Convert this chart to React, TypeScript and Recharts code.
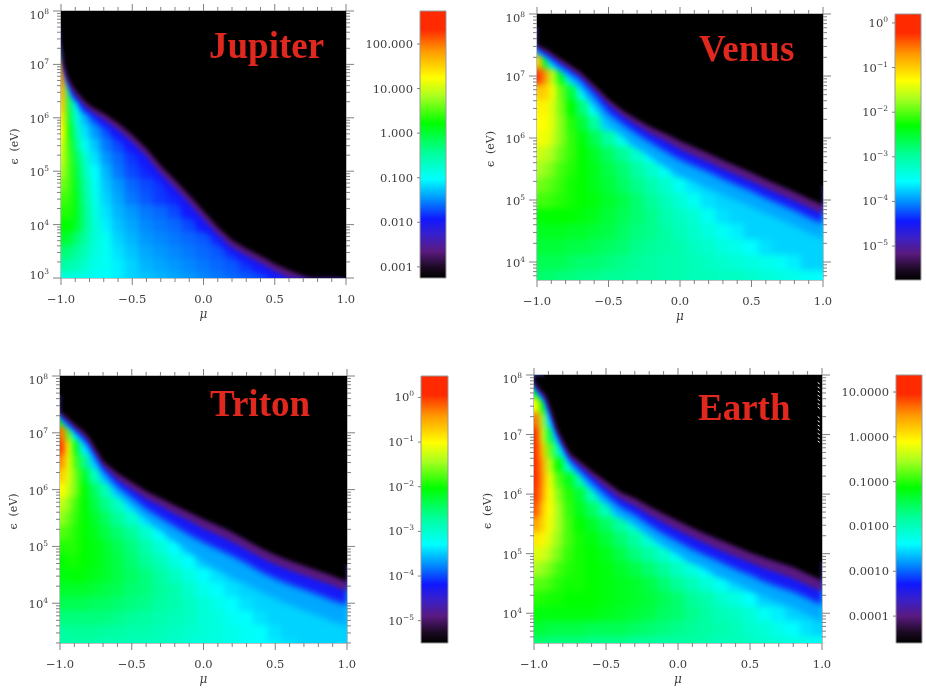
import { Area, Bar, BarChart, ComposedChart, Scatter, XAxis, YAxis } from "recharts";

// mu column centres, shared by all four maps (denser near mu = -1)
const muCols = [-0.98, -0.94, -0.89, -0.83, -0.76, -0.68, -0.6, -0.5, -0.4, -0.3, -0.2, -0.1, 0, 0.1, 0.2, 0.3, 0.4, 0.5, 0.6, 0.7, 0.8, 0.9, 0.98];
const muTicks = [-1, -0.9, -0.8, -0.7, -0.6, -0.5, -0.4, -0.3, -0.2, -0.1, 0, 0.1, 0.2, 0.3, 0.4, 0.5, 0.6, 0.7, 0.8, 0.9, 1];
// mu samples for the contour lines along the upper edge of each map
const edgeMu = [-1, -0.98, -0.95, -0.92, -0.88, -0.84, -0.8, -0.75, -0.7, -0.6, -0.5, -0.4, -0.3, -0.2, -0.1, 0, 0.1, 0.2, 0.3, 0.4, 0.5, 0.6, 0.7, 0.8, 0.9, 1];

// levels are the position on the colour bar in percent, 0 = black, 100 = red. Short rows are black to the right.
const jupiterLogE = [3, 3.25, 3.5, 3.75, 4, 4.25, 4.5, 4.75, 5, 5.25, 5.5, 5.75, 6, 6.25, 6.5, 6.75, 7, 7.25, 7.5, 7.75, 8];
const jupiterLevels = [
  [40, 40, 40, 39, 38, 37, 36, 34, 33, 32, 31, 30, 29, 28, 27, 26, 25, 23, 19, 11, 2],
  [46, 45, 44, 42, 39, 38, 36, 34, 32, 31, 30, 29, 28, 27, 26, 24, 21, 12, 2],
  [50, 49, 47, 44, 40, 38, 35, 33, 31, 30, 29, 28, 27, 26, 24, 20, 12, 3],
  [55, 54, 50, 46, 41, 38, 34, 32, 30, 29, 28, 27, 26, 24, 20, 10, 1],
  [58, 58, 55, 48, 41, 36, 33, 31, 29, 28, 27, 25, 21, 8],
  [60, 60, 56, 48, 40, 35, 32, 30, 28, 27, 25, 22, 8],
  [62, 61, 56, 47, 39, 34, 31, 28, 26, 24, 23, 14, 2],
  [65, 62, 55, 46, 38, 33, 30, 27, 25, 24, 15, 4],
  [68, 62, 54, 44, 37, 32, 28, 25, 23, 17, 6],
  [70, 62, 52, 42, 35, 30, 27, 24, 20, 8],
  [72, 60, 48, 38, 33, 28, 25, 22, 11, 1],
  [75, 58, 44, 35, 30, 26, 22, 13, 3],
  [77, 55, 40, 32, 27, 22, 9, 1],
  [80, 52, 36, 25, 12, 2],
  [82, 45, 25, 8],
  [85, 35, 6],
  [80, 12],
  [55],
  [15],
  [],
  [],
];
const jupiterEdge = [7.5, 7.0, 6.75, 6.6, 6.45, 6.33, 6.23, 6.15, 6.08, 5.9, 5.68, 5.42, 5.1, 4.83, 4.55, 4.25, 3.95, 3.7, 3.55, 3.41, 3.26, 3.14, 3.04, 2.95, 2.8, 2.7];
const jupiterPurple = [7.42, 6.95, 6.68, 6.51, 6.36, 6.24, 6.14, 6.05, 5.97, 5.77, 5.54, 5.28, 4.95, 4.68, 4.4, 4.1, 3.82, 3.57, 3.42, 3.28, 3.13, 3, 2.92, 2.84, 2.7, 2.6];
const jupiterBlue = [7.35, 6.9, 6.6, 6.42, 6.27, 6.15, 6.05, 5.93, 5.84, 5.62, 5.36, 5.08, 4.75, 4.48, 4.2, 3.93, 3.65, 3.42, 3.27, 3.12, 2.98, 2.85, 2.77, 2.7, 2.6, 2.5];

const venusLogE = [3.75, 4, 4.25, 4.5, 4.75, 5, 5.25, 5.5, 5.75, 6, 6.25, 6.5, 6.75, 7, 7.25, 7.5, 7.75, 8];
const venusLevels = [
  [50, 50, 50, 49, 49, 48, 48, 47, 47, 46, 46, 45, 45, 44, 44, 43, 43, 42, 41, 40, 39, 38, 37],
  [52, 52, 52, 52, 51, 50, 50, 49, 48, 47, 46, 45, 45, 44, 43, 42, 41, 40, 39, 38, 36, 34, 32],
  [54, 54, 54, 54, 53, 53, 52, 51, 50, 48, 47, 46, 45, 43, 42, 40, 39, 37, 35, 33, 31, 29, 27],
  [55, 56, 56, 56, 55, 55, 54, 53, 51, 49, 48, 46, 44, 42, 40, 38, 36, 34, 31, 29, 27, 24, 21],
  [58, 58, 58, 58, 58, 57, 56, 54, 52, 50, 48, 45, 43, 41, 38, 35, 33, 30, 28, 25, 22, 18, 12],
  [62, 62, 61, 60, 59, 58, 57, 55, 53, 50, 47, 44, 41, 38, 35, 32, 29, 27, 24, 20, 15, 3],
  [65, 64, 63, 61, 59, 58, 56, 54, 51, 48, 45, 42, 38, 35, 31, 28, 25, 21, 14, 4],
  [68, 67, 65, 62, 60, 58, 56, 53, 50, 46, 42, 38, 34, 30, 27, 23, 13, 4],
  [71, 70, 68, 64, 61, 58, 55, 51, 47, 42, 37, 32, 25, 14, 3],
  [74, 74, 71, 66, 61, 57, 52, 46, 39, 30, 22, 8],
  [75, 75, 72, 66, 60, 54, 46, 34, 22, 5],
  [76, 76, 72, 65, 58, 49, 38, 22, 4],
  [80, 80, 74, 64, 54, 38, 12],
  [92, 85, 70, 56, 38, 12],
  [80, 56, 36, 14, 2],
  [8],
  [],
  [],
];
const venusEdge = [7.5, 7.48, 7.44, 7.41, 7.34, 7.28, 7.22, 7.14, 7.07, 6.85, 6.62, 6.44, 6.3, 6.17, 6.07, 5.95, 5.85, 5.75, 5.64, 5.54, 5.44, 5.33, 5.23, 5.13, 5.02, 4.92];
const venusPurple = [7.46, 7.44, 7.4, 7.36, 7.29, 7.22, 7.16, 7.08, 7.0, 6.78, 6.54, 6.35, 6.2, 6.06, 5.95, 5.82, 5.71, 5.61, 5.5, 5.4, 5.3, 5.19, 5.09, 4.99, 4.88, 4.78];
const venusBlue = [7.42, 7.39, 7.35, 7.3, 7.23, 7.16, 7.1, 7.02, 6.94, 6.68, 6.4, 6.22, 6.06, 5.92, 5.78, 5.65, 5.55, 5.45, 5.34, 5.24, 5.14, 5.03, 4.93, 4.83, 4.72, 4.62];
const venusAzure = [7.38, 7.35, 7.31, 7.25, 7.17, 7.08, 7.0, 6.9, 6.8, 6.5, 6.22, 6.02, 5.84, 5.68, 5.53, 5.4, 5.29, 5.19, 5.09, 4.99, 4.89, 4.78, 4.68, 4.58, 4.47, 4.37];

const tritonLogE = [3.25, 3.5, 3.75, 4, 4.25, 4.5, 4.75, 5, 5.25, 5.5, 5.75, 6, 6.25, 6.5, 6.75, 7, 7.25, 7.5, 7.75, 8];
const tritonLevels = [
  [45, 45, 45, 45, 45, 44, 44, 44, 43, 43, 42, 41, 40, 40, 39, 38, 37, 36, 35, 34, 33, 32, 31],
  [46, 47, 47, 47, 47, 46, 46, 45, 45, 44, 43, 42, 41, 40, 39, 38, 37, 35, 34, 33, 31, 30, 28],
  [49, 49, 49, 49, 49, 49, 48, 47, 46, 45, 44, 43, 41, 40, 38, 37, 35, 34, 32, 30, 28, 26, 24],
  [52, 52, 52, 52, 51, 51, 50, 49, 48, 46, 45, 43, 41, 39, 37, 35, 33, 31, 29, 27, 24, 22, 19],
  [55, 55, 55, 55, 54, 53, 52, 50, 49, 47, 45, 42, 39, 37, 35, 32, 30, 27, 25, 22, 19, 10, 3],
  [57, 57, 58, 57, 56, 55, 53, 51, 49, 46, 43, 40, 37, 35, 32, 29, 26, 23, 19, 12, 4, 1],
  [58, 59, 59, 58, 57, 55, 53, 50, 47, 44, 40, 37, 33, 30, 27, 23, 19, 10, 2],
  [60, 60, 60, 58, 57, 55, 52, 49, 45, 41, 37, 33, 29, 26, 22, 12, 3],
  [63, 62, 60, 58, 56, 53, 50, 47, 42, 37, 33, 28, 24, 10, 1],
  [67, 64, 61, 58, 55, 51, 47, 42, 36, 31, 26, 12, 1],
  [70, 67, 62, 58, 53, 48, 43, 36, 28, 12, 2],
  [75, 71, 65, 58, 51, 44, 35, 13, 1],
  [80, 73, 65, 55, 44, 24, 4],
  [86, 74, 62, 48, 28, 4],
  [92, 75, 56, 36, 5],
  [88, 64, 40, 8],
  [60, 12],
  [],
  [],
  [],
];
const tritonEdge = [7.37, 7.33, 7.27, 7.2, 7.11, 7.03, 6.92, 6.71, 6.5, 6.29, 6.13, 5.97, 5.85, 5.72, 5.6, 5.48, 5.37, 5.25, 5.11, 4.97, 4.85, 4.75, 4.66, 4.57, 4.48, 4.38];
const tritonPurple = [7.33, 7.29, 7.22, 7.15, 7.05, 6.96, 6.85, 6.63, 6.42, 6.18, 6.0, 5.84, 5.71, 5.57, 5.45, 5.31, 5.2, 5.08, 4.94, 4.8, 4.68, 4.58, 4.49, 4.4, 4.31, 4.21];
const tritonBlue = [7.28, 7.24, 7.17, 7.1, 7.0, 6.9, 6.78, 6.56, 6.34, 6.06, 5.86, 5.66, 5.5, 5.35, 5.2, 5.07, 4.95, 4.83, 4.7, 4.55, 4.43, 4.33, 4.24, 4.15, 4.05, 3.97];
const tritonAzure = [7.24, 7.2, 7.12, 7.05, 6.94, 6.83, 6.7, 6.47, 6.24, 5.92, 5.69, 5.46, 5.28, 5.1, 4.92, 4.72, 4.58, 4.45, 4.33, 4.2, 4.08, 3.97, 3.87, 3.78, 3.68, 3.6];

const earthLogE = [3.5, 3.75, 4, 4.25, 4.5, 4.75, 5, 5.25, 5.5, 5.75, 6, 6.25, 6.5, 6.75, 7, 7.25, 7.5, 7.75, 8];
const earthLevels = [
  [50, 50, 49, 49, 49, 49, 48, 48, 48, 47, 47, 46, 46, 46, 45, 44, 44, 43, 42, 41, 40, 39, 38],
  [54, 54, 53, 53, 53, 53, 52, 52, 52, 51, 50, 49, 48, 47, 46, 45, 44, 42, 41, 39, 37, 35, 33],
  [57, 57, 57, 57, 57, 57, 57, 56, 55, 54, 53, 51, 50, 48, 46, 44, 43, 41, 38, 36, 33, 31, 28],
  [60, 60, 59, 59, 58, 58, 58, 57, 56, 55, 54, 52, 50, 47, 45, 42, 40, 37, 34, 31, 28, 25, 21],
  [63, 63, 62, 60, 59, 59, 58, 57, 56, 55, 53, 50, 47, 44, 41, 38, 35, 32, 29, 26, 22, 16, 8],
  [68, 67, 65, 62, 60, 59, 58, 57, 55, 53, 50, 47, 43, 40, 37, 33, 30, 27, 23, 18, 6],
  [72, 72, 69, 65, 61, 59, 58, 56, 53, 49, 46, 42, 38, 34, 30, 26, 15, 2],
  [77, 76, 72, 67, 62, 59, 57, 54, 50, 46, 41, 36, 32, 25, 8],
  [84, 79, 74, 68, 62, 58, 55, 51, 46, 41, 36, 26, 6],
  [90, 80, 75, 68, 61, 56, 51, 44, 30, 16, 3],
  [92, 84, 75, 66, 60, 54, 44, 24, 5],
  [93, 85, 74, 63, 56, 46, 30, 4],
  [94, 84, 70, 58, 42, 6],
  [95, 80, 64, 44, 4],
  [93, 72, 52, 10],
  [88, 68, 35, 3],
  [75, 58, 18],
  [55, 14],
  [],
];
const earthEdge = [7.9, 7.82, 7.74, 7.66, 7.4, 7.1, 6.9, 6.68, 6.58, 6.39, 6.21, 6.03, 5.93, 5.79, 5.67, 5.55, 5.43, 5.32, 5.22, 5.12, 5.02, 4.93, 4.85, 4.77, 4.66, 4.55];
const earthPurple = [7.86, 7.78, 7.7, 7.62, 7.35, 7.05, 6.85, 6.62, 6.51, 6.3, 6.1, 5.92, 5.8, 5.65, 5.52, 5.39, 5.27, 5.16, 5.05, 4.95, 4.85, 4.75, 4.67, 4.58, 4.47, 4.36];
const earthBlue = [7.83, 7.75, 7.67, 7.58, 7.3, 7.0, 6.8, 6.56, 6.44, 6.2, 5.98, 5.78, 5.65, 5.48, 5.33, 5.2, 5.07, 4.96, 4.85, 4.74, 4.64, 4.53, 4.44, 4.36, 4.25, 4.14];
const earthAzure = [7.8, 7.72, 7.63, 7.54, 7.25, 6.95, 6.74, 6.49, 6.36, 6.08, 5.84, 5.62, 5.47, 5.29, 5.13, 4.98, 4.85, 4.72, 4.6, 4.5, 4.39, 4.28, 4.18, 4.09, 3.97, 3.85];

// white specks down the right edge of the Earth map
const earthSpeckLogE = [7.86, 7.79, 7.72, 7.65, 7.58, 7.51, 7.45, 7.29, 7.22, 7.15, 7.08, 7.01, 6.94, 6.88];

const colorLevels = [0, 4, 10, 16, 22, 30, 37, 47, 58, 68, 75, 85, 93, 100];
const colorStops = ["#000000", "#1c0a24", "#5a1a80", "#3a20c8", "#1018ff", "#0098ff", "#00ffff", "#00ff99", "#00ff00", "#a8ff20", "#ffff00", "#ff9900", "#ff2a00", "#ff2a00"];

const FONT = "'DejaVu Serif', serif";
const TICK = "#808080";
const INK = "#3c3c3c";

function hexToRgb(hex: string) {
  return [1, 3, 5].map((i) => parseInt(hex.slice(i, i + 2), 16));
}

function levelColor(level: number) {
  let i = 0;
  while (i < colorLevels.length - 2 && level > colorLevels[i + 1]) i++;
  const t = Math.min(1, (level - colorLevels[i]) / (colorLevels[i + 1] - colorLevels[i]));
  const a = hexToRgb(colorStops[i]);
  const b = hexToRgb(colorStops[i + 1]);
  return `rgb(${a.map((v, k) => Math.round(v + (b[k] - v) * t)).join(",")})`;
}

function logTicks(bottom: number) {
  const out: number[] = [];
  for (let d = Math.floor(bottom); d < 8; d++) {
    for (let k = 1; k < 10; k++) {
      const v = d + Math.log10(k);
      if (v >= bottom) out.push(v);
    }
  }
  out.push(8);
  return out;
}

// the contour value at the sample nearest to mu
function edgeAt(line: number[], mu: number) {
  let best = 0;
  edgeMu.forEach((m, i) => {
    if (Math.abs(m - mu) < Math.abs(edgeMu[best] - mu)) best = i;
  });
  return line[best];
}

function buildCells(logE: number[], levels: number[][], edge: number[], floor: number) {
  return logE.flatMap((e, r) =>
    muCols.map((mu, c) => {
      // cells just under the contours take a floor level, the painted bands cover them; far above stay black
      const raw = levels[r][c] ?? 0;
      const level = e > edgeAt(edge, mu) + 0.3 ? 0 : Math.max(raw, floor);
      return { mu, logE: e, level, r, c };
    })
  );
}

// region above a contour, run past the plot on both sides so the blur has no pale rim
function contourBand(line: number[], lift = 0) {
  const pts = edgeMu.map((mu, i) => ({ mu, range: [line[i] + lift, 8.5] }));
  return [{ mu: -1.2, range: [line[0] + lift, 8.5] }, ...pts, { mu: 1.2, range: [line[line.length - 1] + lift, 8.5] }];
}

interface PanelProps {
  id: string;
  x: number;
  y: number;
  w: number;
  h: number;
  bottom: number;
  logE: number[];
  levels: number[][];
  edge: number[];
  purple: number[];
  blue: number[];
  azure?: number[];
  floor: number;
  specks?: number[];
}

const LEFT = 60;
const RIGHT = 20;
const TOP = 12;
const BOTTOM = 50;
const BLEED = 16;

function HeatPanel({ id, x, y, w, h, bottom, logE, levels, edge, purple, blue, azure, floor, specks }: PanelProps) {
  const pxPerMu = w / 2;
  const rowH = (0.25 * h) / (8 - bottom);
  const cells = buildCells(logE, levels, edge, floor);
  const lastRow = logE.length - 1;
  const lastCol = muCols.length - 1;

  const cellShape = (p: any) => {
    const { mu, level, r, c } = p.payload;
    const lo = c === 0 ? -1 : (muCols[c - 1] + mu) / 2;
    const hi = c === lastCol ? 1 : (muCols[c + 1] + mu) / 2;
    const x0 = p.cx + (lo - mu) * pxPerMu - (c === 0 ? BLEED : 0.5);
    const x1 = p.cx + (hi - mu) * pxPerMu + (c === lastCol ? BLEED : 0.5);
    const y0 = p.cy - rowH / 2 - (r === lastRow ? BLEED : 0.5);
    const y1 = p.cy + rowH / 2 + (r === 0 ? BLEED : 0.5);
    return <rect x={x0} y={y0} width={x1 - x0} height={y1 - y0} fill={levelColor(level)} />;
  };

  const xTick = (side: "top" | "bottom") => (p: any) => {
    const v = p.payload.value;
    const major = Math.abs(v * 2 - Math.round(v * 2)) < 1e-6;
    const len = major ? 7 : 4;
    const dir = side === "top" ? -1 : 1;
    return (
      <g>
        <line x1={p.x} x2={p.x} y1={p.y} y2={p.y + dir * len} stroke={TICK} />
        {side === "bottom" && major ? (
          <text x={p.x} y={p.y + 25} textAnchor="middle" fontSize={11.5} fontFamily={FONT} fill={INK}>
            {(v < 0 ? "\u2212" : "") + Math.abs(v).toFixed(1)}
          </text>
        ) : null}
      </g>
    );
  };

  const yTick = (side: "left" | "right") => (p: any) => {
    const v = p.payload.value;
    const major = Math.abs(v - Math.round(v)) < 1e-6;
    const len = major ? 8 : 4;
    const dir = side === "left" ? -1 : 1;
    const base = v === 8 ? 8 : Math.abs(v - bottom) < 1e-6 ? 1 : 5;
    return (
      <g>
        <line x1={p.x} x2={p.x + dir * len} y1={p.y} y2={p.y} stroke={TICK} />
        {side === "left" && major ? (
          <text x={p.x - 12} y={p.y + base} textAnchor="end" fontFamily={FONT} fill={INK} fontSize={11.5}>
            10
            <tspan fontSize={7.5} dy={-5}>
              {Math.round(v)}
            </tspan>
          </text>
        ) : null}
      </g>
    );
  };

  const ticks = logTicks(bottom);
  const speckData = (specks ?? []).map((e) => ({ mu: 0.977, logE: e }));
  const css =
    `.heat-${id}{filter:url(#blur-${id});clip-path:url(#clip-${id})}` +
    `.band-${id}{filter:url(#soft-${id});clip-path:url(#clip-${id})}`;

  return (
    <div style={{ position: "absolute", left: x - LEFT, top: y - TOP }}>
      <style>{css}</style>
      <ComposedChart
        width={w + LEFT + RIGHT}
        height={h + TOP + BOTTOM}
        margin={{ top: 0, right: 0, bottom: 0, left: 0 }}
      >
        <defs>
          <filter id={`blur-${id}`} x="-10%" y="-10%" width="120%" height="120%" colorInterpolationFilters="sRGB">
            <feGaussianBlur stdDeviation="3.4" />
          </filter>
          <filter id={`soft-${id}`} x="-10%" y="-10%" width="120%" height="120%" colorInterpolationFilters="sRGB">
            <feGaussianBlur stdDeviation="2" />
          </filter>
          <clipPath id={`clip-${id}`} clipPathUnits="userSpaceOnUse">
            <rect x={LEFT} y={TOP} width={w} height={h} />
          </clipPath>
        </defs>
        <XAxis xAxisId="bottom" type="number" dataKey="mu" orientation="bottom" domain={[-1, 1]} allowDataOverflow ticks={muTicks} interval={0} height={BOTTOM} tickSize={0} tickMargin={0} tickLine={false} stroke={TICK} tick={xTick("bottom")} />
        <XAxis xAxisId="top" type="number" dataKey="mu" orientation="top" domain={[-1, 1]} allowDataOverflow ticks={muTicks} interval={0} height={TOP} tickSize={0} tickMargin={0} tickLine={false} stroke={TICK} tick={xTick("top")} />
        <YAxis yAxisId="left" type="number" orientation="left" domain={[bottom, 8]} allowDataOverflow ticks={ticks} interval={0} width={LEFT} tickSize={0} tickMargin={0} tickLine={false} stroke={TICK} tick={yTick("left")} />
        <YAxis yAxisId="right" type="number" orientation="right" domain={[bottom, 8]} allowDataOverflow ticks={ticks} interval={0} width={RIGHT} tickSize={0} tickMargin={0} tickLine={false} stroke={TICK} tick={yTick("right")} />
        <Scatter className={`heat-${id}`} data={cells} dataKey="logE" xAxisId="bottom" yAxisId="left" shape={cellShape} isAnimationActive={false} />
        {azure ? (
          <Area zIndex={649} className={`heat-${id}`} data={contourBand(azure)} dataKey="range" xAxisId="bottom" yAxisId="left" type="linear" fill={levelColor(31)} fillOpacity={1} stroke="none" dot={false} activeDot={false} isAnimationActive={false} />
        ) : null}
        <Area zIndex={650} className={`heat-${id}`} data={contourBand(blue)} dataKey="range" xAxisId="bottom" yAxisId="left" type="linear" fill={levelColor(21)} fillOpacity={1} stroke="none" dot={false} activeDot={false} isAnimationActive={false} />
        <Area zIndex={651} className={`band-${id}`} data={contourBand(purple)} dataKey="range" xAxisId="bottom" yAxisId="left" type="linear" fill={levelColor(10)} fillOpacity={1} stroke="none" dot={false} activeDot={false} isAnimationActive={false} />
        <Area zIndex={652} className={`band-${id}`} data={contourBand(edge)} dataKey="range" xAxisId="bottom" yAxisId="left" type="linear" fill="#000000" fillOpacity={1} stroke="none" dot={false} activeDot={false} isAnimationActive={false} />
        {/* unblurred black well above the edge, hides the faded rim of the bands along the plot border */}
        <Area zIndex={653} data={contourBand(edge, 0.3)} dataKey="range" xAxisId="bottom" yAxisId="left" type="linear" fill="#000000" fillOpacity={1} stroke="none" dot={false} activeDot={false} isAnimationActive={false} />
        {specks ? (
          <Scatter
            zIndex={660}
            data={speckData}
            dataKey="logE"
            xAxisId="bottom"
            yAxisId="left"
            isAnimationActive={false}
            shape={(p: any) => <line x1={p.cx - 1} x2={p.cx + 1} y1={p.cy - 0.7} y2={p.cy + 0.7} stroke="#ffffff" />}
          />
        ) : null}
        <text
          transform={`translate(17 ${TOP + h / 2 + 2}) rotate(-90)`}
          textAnchor="middle"
          fontFamily={FONT}
          fontSize={11}
          fill={INK}
          xmlSpace="preserve"
        >
          {"\u03f5  (eV)"}
        </text>
        <text x={LEFT + w / 2} y={TOP + h + 40} textAnchor="middle" fontFamily={FONT} fontStyle="italic" fontSize={12} fill={INK}>
          {"\u03bc"}
        </text>
      </ComposedChart>
    </div>
  );
}

interface BarProps {
  id: string;
  x: number;
  y: number;
  w: number;
  h: number;
  domain: [number, number];
  ticks: number[];
  labels: string[];
  power?: boolean;
}

function ColorBar({ id, x, y, w, h, domain, ticks, labels, power }: BarProps) {
  const pad = 6;
  const axisW = 60;
  const leftTick = (p: any) => {
    const i = ticks.indexOf(p.payload.value);
    return (
      <g>
        <line x1={p.x} x2={p.x - 3} y1={p.y} y2={p.y} stroke={TICK} />
        <text x={p.x - 7} y={p.y + 4} textAnchor="end" fontFamily={FONT} fontSize={11.5} fill={INK}>
          {power ? "10" : labels[i]}
          {power ? (
            <tspan fontSize={7.5} dy={-5}>
              {labels[i]}
            </tspan>
          ) : null}
        </text>
      </g>
    );
  };
  const rightTick = (p: any) => <line x1={p.x} x2={p.x + 3} y1={p.y} y2={p.y} stroke={TICK} />;
  const barData = [{ name: id, range: domain }];

  return (
    <div style={{ position: "absolute", left: x - axisW, top: y - pad }}>
      <BarChart
        width={w + axisW + 6}
        height={h + 2 * pad}
        data={barData}
        margin={{ top: pad, right: 0, bottom: pad, left: 0 }}
        barCategoryGap={0}
      >
        <defs>
          <linearGradient id={`bar-${id}`} x1="0" y1="1" x2="0" y2="0">
            {colorLevels.map((lv, i) => (
              <stop key={lv} offset={`${lv}%`} stopColor={colorStops[i]} />
            ))}
          </linearGradient>
        </defs>
        <XAxis dataKey="name" hide />
        <YAxis yAxisId="left" type="number" orientation="left" domain={domain} ticks={ticks} interval={0} width={axisW} tickSize={0} tickMargin={0} tickLine={false} axisLine={false} tick={leftTick} />
        <YAxis yAxisId="right" type="number" orientation="right" domain={domain} ticks={ticks} interval={0} width={6} tickSize={0} tickMargin={0} tickLine={false} axisLine={false} tick={rightTick} />
        <Bar yAxisId="left" dataKey="range" fill={`url(#bar-${id})`} stroke="#999999" isAnimationActive={false} />
      </BarChart>
    </div>
  );
}

const titleStyle = {
  position: "absolute" as const,
  fontFamily: "'Liberation Serif', serif",
  fontWeight: 700,
  fontSize: 37,
  lineHeight: "37px",
  color: "#e0281e",
  whiteSpace: "nowrap" as const,
};

export default function App() {
  return (
    <div style={{ position: "absolute", left: 0, top: 0, width: 926, height: 691, background: "#fff", overflow: "hidden", filter: "blur(0.35px)" }}>
      <HeatPanel id="jupiter" x={61} y={11} w={285} h={267} bottom={3} logE={jupiterLogE} levels={jupiterLevels} edge={jupiterEdge} purple={jupiterPurple} blue={jupiterBlue} floor={22} />
      <HeatPanel id="venus" x={537} y={14} w={286} h={266} bottom={3.71} logE={venusLogE} levels={venusLevels} edge={venusEdge} purple={venusPurple} blue={venusBlue} azure={venusAzure} floor={34} />
      <HeatPanel id="triton" x={60} y={376} w={287} h={267} bottom={3.3} logE={tritonLogE} levels={tritonLevels} edge={tritonEdge} purple={tritonPurple} blue={tritonBlue} azure={tritonAzure} floor={34} />
      <HeatPanel id="earth" x={534} y={375} w={288} h={268} bottom={3.5} logE={earthLogE} levels={earthLevels} edge={earthEdge} purple={earthPurple} blue={earthBlue} azure={earthAzure} floor={34} specks={earthSpeckLogE} />

      <ColorBar id="jupiter" x={420} y={11} w={26} h={267} domain={[-3.25, 2.74]} ticks={[-3, -2, -1, 0, 1, 2]} labels={["0.001", "0.010", "0.100", "1.000", "10.000", "100.000"]} />
      <ColorBar id="venus" x={895} y={14} w={26} h={266} domain={[-5.76, 0.2]} ticks={[-5, -4, -3, -2, -1, 0]} labels={["\u22125", "\u22124", "\u22123", "\u22122", "\u22121", "0"]} power />
      <ColorBar id="triton" x={421} y={376} w={27} h={267} domain={[-5.5, 0.48]} ticks={[-5, -4, -3, -2, -1, 0]} labels={["\u22125", "\u22124", "\u22123", "\u22122", "\u22121", "0"]} power />
      <ColorBar id="earth" x={896} y={375} w={26} h={268} domain={[-4.6, 1.38]} ticks={[-4, -3, -2, -1, 0, 1]} labels={["0.0001", "0.0010", "0.0100", "0.1000", "1.0000", "10.0000"]} />

      <div style={{ ...titleStyle, left: 209, top: 27 }}>Jupiter</div>
      <div style={{ ...titleStyle, left: 699, top: 30 }}>Venus</div>
      <div style={{ ...titleStyle, left: 210, top: 385 }}>Triton</div>
      <div style={{ ...titleStyle, left: 698, top: 389 }}>Earth</div>
    </div>
  );
}
